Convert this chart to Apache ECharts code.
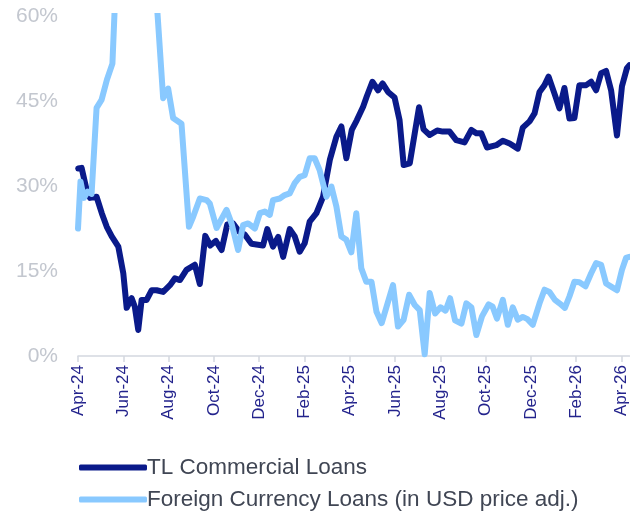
<!DOCTYPE html>
<html>
<head>
<meta charset="utf-8">
<script src="https://cdn.jsdelivr.net/npm/echarts@6/dist/echarts.min.js"></script>
<style>
html,body{margin:0;padding:0;background:#fff;}
#chart{width:630px;height:511px;}
</style>
</head>
<body>
<div id="chart"></div>
<script>
// x values: months since Apr-24
var tickLabels = ['Apr-24','Jun-24','Aug-24','Oct-24','Dec-24','Feb-25','Apr-25','Jun-25','Aug-25','Oct-25','Dec-25','Feb-26','Apr-26'];
var yTicks = [0, 15, 30, 45, 60];
var seriesNames = ['TL Commercial Loans', 'Foreign Currency Loans (in USD price adj.)'];

var tlMonths = [0.01,0.16,0.38,0.53,0.82,1.05,1.27,1.49,1.78,2.00,2.15,2.37,2.51,2.66,2.81,3.03,3.25,3.47,3.76,4.06,4.28,4.50,4.79,5.16,5.38,5.62,5.84,6.09,6.34,6.59,6.85,7.10,7.37,7.66,8.17,8.36,8.61,8.84,9.06,9.35,9.57,9.79,10.01,10.23,10.53,10.82,11.12,11.41,11.63,11.85,12.09,12.31,12.59,12.75,13.00,13.25,13.45,13.69,13.98,14.20,14.38,14.65,14.87,15.06,15.26,15.53,15.86,16.11,16.41,16.70,17.07,17.37,17.59,17.81,18.06,18.47,18.76,19.06,19.42,19.64,19.94,20.16,20.38,20.60,20.78,21.04,21.26,21.48,21.70,21.92,22.14,22.44,22.66,22.88,23.10,23.32,23.54,23.80,24.02,24.24,24.35];
var tlValues = [33.1,33.2,29.3,27.9,28.1,25.2,22.8,21.1,19.3,14.6,8.5,10.2,8.7,4.6,9.9,9.9,11.6,11.6,11.3,12.5,13.7,13.4,15.2,16.1,12.7,21.2,19.5,20.3,18.7,23.2,23.4,22.0,21.4,19.8,19.5,22.4,19.3,21.0,17.5,22.4,21.1,18.4,19.9,23.7,25.2,28.1,34.6,38.7,40.5,34.9,39.9,41.6,44.0,45.8,48.4,46.9,48.1,46.6,45.6,41.6,33.7,34.0,39.3,43.9,40.0,39.0,39.8,39.6,39.6,38.1,37.7,39.9,39.3,39.3,36.8,37.2,38.0,37.5,36.6,40.3,41.4,42.8,46.6,47.8,49.3,46.3,43.7,47.3,41.9,42.0,47.8,47.8,48.4,46.9,49.9,50.3,46.9,38.9,47.6,50.8,51.3];

var fxMonths = [0,0.11,0.26,0.42,0.60,0.82,1.04,1.28,1.52,1.72,2.07,2.51,2.96,3.35,3.76,3.98,4.20,4.57,4.90,5.09,5.38,5.68,5.82,6.12,6.56,6.78,7.07,7.29,7.51,7.81,8.03,8.25,8.47,8.61,8.91,9.13,9.35,9.57,9.79,10.01,10.23,10.45,10.67,10.97,11.19,11.41,11.63,11.85,12.07,12.29,12.51,12.73,12.96,13.18,13.41,13.91,14.13,14.38,14.62,14.87,15.09,15.31,15.53,15.77,16.01,16.23,16.43,16.65,16.93,17.15,17.37,17.59,17.84,18.13,18.31,18.50,18.76,18.98,19.20,19.42,19.64,19.85,20.08,20.38,20.60,20.82,21.06,21.26,21.50,21.70,21.92,22.14,22.41,22.66,22.88,23.10,23.32,23.56,23.80,24.02,24.20,24.35];
var fxValues = [22.5,30.8,27.9,29.0,28.6,43.8,45.2,48.8,51.6,71,85,95,88,70,45.5,47.2,42.0,41.0,22.8,24.6,27.8,27.5,26.9,22.6,25.8,23.4,18.7,23.1,23.4,22.5,25.2,25.5,24.9,27.5,27.8,28.4,28.7,30.5,31.6,31.9,34.9,34.9,32.8,28.1,29.9,26.4,21.1,20.5,18.3,25.2,15.5,13.1,13.1,7.8,5.8,12.5,5.2,6.4,10.8,9.0,8.1,0.3,11.1,7.5,8.6,8.0,10.2,6.3,5.7,9.3,8.6,3.7,7.0,9.1,8.7,6.6,9.9,5.5,8.6,6.4,6.9,6.5,5.5,9.3,11.7,11.3,9.9,9.3,8.5,10.5,13.1,13.0,12.3,14.6,16.4,16.1,12.8,12.2,11.6,15.2,17.3,17.5];

function pairs(xs, ys){ return xs.map(function(x,i){ return [x, ys[i]]; }); }
var tickValues = tickLabels.map(function(_, i){ return i * 2; });

var chart = echarts.init(document.getElementById('chart'), null, {renderer:'canvas'});
var font = "'Liberation Sans', Arial, sans-serif";
function legendAt(name, top){
  return {
    left: 74, top: top, orient: 'vertical',
    itemWidth: 68, itemHeight: 6, icon: 'roundRect', itemGap: 0,
    textStyle: {fontSize: 22.5, color: '#404654', fontFamily: font, padding: [0,0,0,-5]},
    data: [name]
  };
}
chart.setOption({
  animation: false,
  backgroundColor: '#ffffff',
  grid: {left: 78, right: 0, top: 16, bottom: 155, containLabel: false},
  xAxis: {
    type: 'value', min: 0, max: 24.35, interval: 2,
    splitLine: {show: false},
    axisLine: {show: true, lineStyle: {color: '#d3d7df', width: 1.5}},
    axisTick: {show: true, length: 6, lineStyle: {color: '#d3d7df', width: 1.5}, customValues: tickValues},
    axisLabel: {
      customValues: tickValues,
      rotate: 90, margin: 9, fontSize: 17, color: '#23238c', fontFamily: font,
      formatter: function(v){ var i = Math.round(v/2); return tickLabels[i] || ''; }
    }
  },
  yAxis: {
    type: 'value', min: 0, max: 60, interval: 15,
    splitLine: {show: false},
    axisLine: {show: false}, axisTick: {show: false},
    axisLabel: {margin: 20, fontSize: 21, color: '#c3c7cf', fontFamily: font,
      formatter: function(v){ return yTicks.indexOf(v) >= 0 ? v + '%' : ''; }}
  },
  legend: [legendAt(seriesNames[0], 451), legendAt(seriesNames[1], 483)],
  series: [
    {name: seriesNames[0], type: 'line', data: pairs(tlMonths, tlValues), showSymbol: false, symbol: 'none',
     clip: true, lineStyle: {color: '#0a1a8a', width: 6, cap: 'round', join: 'round'}, itemStyle: {color: '#0a1a8a'}},
    {name: seriesNames[1], type: 'line', data: pairs(fxMonths, fxValues), showSymbol: false, symbol: 'none',
     clip: true, lineStyle: {color: '#89c9ff', width: 6, cap: 'round', join: 'round'}, itemStyle: {color: '#89c9ff'}}
  ]
});
</script>
</body>
</html>
